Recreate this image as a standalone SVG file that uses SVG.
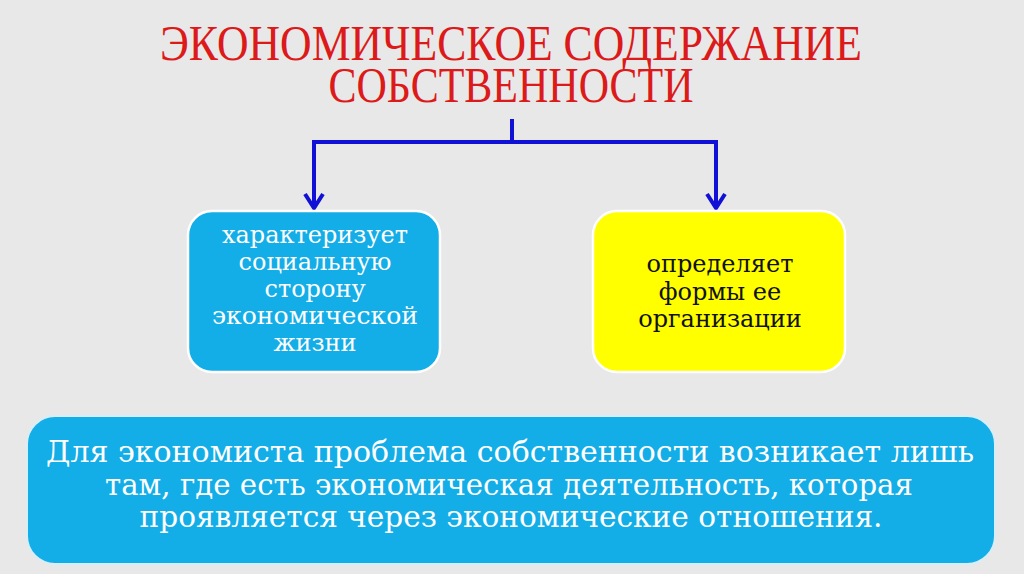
<svg xmlns="http://www.w3.org/2000/svg" width="1024" height="574" viewBox="0 0 1024 574">
<defs>
<style>
.title{font-family:"Liberation Serif","DejaVu Serif",serif;font-size:50px;fill:#dc1a1a;text-anchor:middle}
.bt{font-family:"DejaVu Serif","Liberation Serif",serif;font-size:24px;text-anchor:middle}
.big{font-family:"DejaVu Serif","Liberation Serif",serif;font-size:29px;fill:#ffffff;text-anchor:middle}
.conn{fill:none;stroke:#1010d6;stroke-width:4;stroke-linejoin:miter}
</style>
<marker id="chev" markerUnits="userSpaceOnUse" viewBox="0 0 30 30" markerWidth="30" markerHeight="30" refX="16" refY="15" orient="auto">
<path d="M 2 6 L 16 15 L 2 24" fill="none" stroke="#1010d6" stroke-width="4"/>
</marker>
</defs>
<rect width="1024" height="574" fill="#e8e8e8"/>
<g id="title">
<text class="title"><tspan x="511" y="60" textLength="702" lengthAdjust="spacingAndGlyphs">ЭКОНОМИЧЕСКОЕ СОДЕРЖАНИЕ</tspan><tspan x="511" y="102" textLength="365" lengthAdjust="spacingAndGlyphs">СОБСТВЕННОСТИ</tspan></text>
</g>
<g id="connectors">
<path class="conn" d="M 512 119 L 512 142"/>
<path class="conn" d="M 314 142 L 716 142"/>
<path class="conn" d="M 314 140 L 314 208" marker-end="url(#chev)"/>
<path class="conn" d="M 716 140 L 716 208" marker-end="url(#chev)"/>
</g>
<g id="node-left">
<rect x="188" y="211" width="252" height="161" rx="24" fill="#13ade7" stroke="#ffffff" stroke-width="2.5"/>
<text class="bt" fill="#ffffff"><tspan x="315" y="243">характеризует</tspan><tspan x="315" y="270">социальную</tspan><tspan x="315" y="297">сторону</tspan><tspan x="315" y="324" textLength="206" lengthAdjust="spacingAndGlyphs">экономической</tspan><tspan x="315" y="351">жизни</tspan></text>
</g>
<g id="node-right">
<rect x="593" y="211" width="252" height="161" rx="24" fill="#ffff00" stroke="#ffffff" stroke-width="2.5"/>
<text class="bt" fill="#111111"><tspan x="720" y="272">определяет</tspan><tspan x="720" y="300">формы ее</tspan><tspan x="720" y="327">организации</tspan></text>
</g>
<g id="node-bottom">
<rect x="27" y="416" width="968" height="148" rx="28" fill="#13ade7" stroke="#d8eef6" stroke-width="2"/>
<text class="big"><tspan x="510" y="462" textLength="928" lengthAdjust="spacingAndGlyphs">Для экономиста проблема собственности возникает лишь</tspan><tspan x="509" y="495" textLength="808" lengthAdjust="spacingAndGlyphs">там, где есть экономическая деятельность, которая</tspan><tspan x="511" y="527" textLength="743" lengthAdjust="spacingAndGlyphs">проявляется через экономические отношения.</tspan></text>
</g>
</svg>
